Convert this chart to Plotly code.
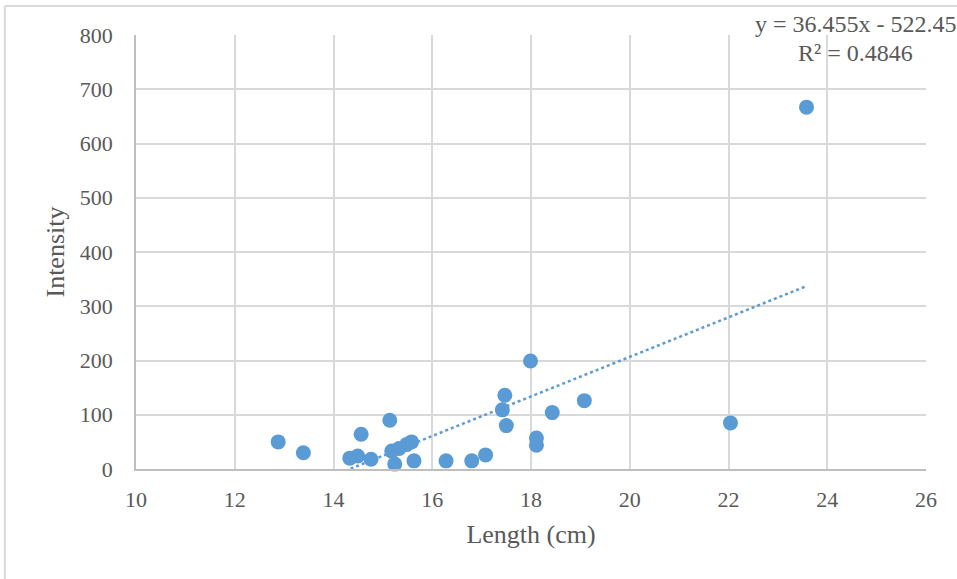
import plotly.graph_objects as go

# Data
length_cm = [12.88, 13.39, 14.33, 14.49, 14.56, 14.76, 15.14, 15.18, 15.24, 15.33,
             15.48, 15.58, 15.63, 16.28, 16.80, 17.08, 17.42, 17.47, 17.50, 17.99,
             18.11, 18.11, 18.43, 19.08, 22.04, 23.58]
intensity = [50, 30, 20, 24, 64, 18, 90, 33, 9, 38,
             45, 50, 15, 15, 15, 26, 109, 136, 80, 199,
             57, 44, 104, 126, 85, 667]

slope = 36.455
intercept = -522.45
r_squared = 0.4846

x_ticks = [10, 12, 14, 16, 18, 20, 22, 24, 26]
y_ticks = [0, 100, 200, 300, 400, 500, 600, 700, 800]

color = "#5B9BD5"
font_family = "Liberation Serif, Times New Roman, serif"

x_min, x_max = min(length_cm), max(length_cm)
trend_x = [x_min, x_max]
trend_y = [slope * v + intercept for v in trend_x]

fig = go.Figure()
fig.add_trace(go.Scatter(
    x=trend_x, y=trend_y, mode="lines",
    line=dict(color=color, width=2.5, dash="dot"),
    showlegend=False,
))
fig.add_trace(go.Scatter(
    x=length_cm, y=intensity, mode="markers",
    marker=dict(color=color, size=15, line=dict(width=0)),
    showlegend=False, cliponaxis=False,
))

fig.update_layout(
    width=957, height=579,
    margin=dict(l=136, r=31, t=35, b=110),
    paper_bgcolor="white", plot_bgcolor="white",
    font=dict(family=font_family, color="#595959", size=22),
    xaxis=dict(
        range=[10, 26], tickvals=x_ticks, ticktext=[str(t) for t in x_ticks],
        showgrid=True, gridcolor="#D9D9D9", gridwidth=1.5,
        zeroline=False, showline=True, linecolor="#BFBFBF", linewidth=1.5,
        ticks="", ticklabelstandoff=10, tickfont=dict(size=22, color="#595959"),
        title=dict(text="Length (cm)", font=dict(size=26, color="#595959"), standoff=14),
    ),
    yaxis=dict(
        range=[0, 800], tickvals=y_ticks, ticktext=[str(t) for t in y_ticks],
        showgrid=True, gridcolor="#D9D9D9", gridwidth=1.5,
        zeroline=False, showline=True, linecolor="#BFBFBF", linewidth=1.5,
        ticks="", ticklabelstandoff=17, tickfont=dict(size=22, color="#595959"),
        title=dict(text="Intensity", font=dict(size=26, color="#595959"), standoff=8),
    ),
    annotations=[
        dict(text=f"y = {slope}x - {abs(intercept)}", xref="paper", yref="paper",
             x=0.911, y=1.025, xanchor="center", yanchor="middle", showarrow=False,
             font=dict(size=24, color="#595959", family=font_family)),
        dict(text=f"R² = {r_squared}", xref="paper", yref="paper",
             x=0.911, y=0.9585, xanchor="center", yanchor="middle", showarrow=False,
             font=dict(size=24, color="#595959", family=font_family)),
    ],
    shapes=[
        dict(type="line", xref="paper", yref="paper", x0=-0.166, x1=1.05, y0=1.067, y1=1.067,
             line=dict(color="#D9D9D9", width=2)),
        dict(type="line", xref="paper", yref="paper", x0=-0.166, x1=-0.166, y0=1.067, y1=-0.26,
             line=dict(color="#D9D9D9", width=2)),
    ],
)

fig.write_html("out.html", config={"displayModeBar": False},
               post_script="document.body.style.margin='0px';")
